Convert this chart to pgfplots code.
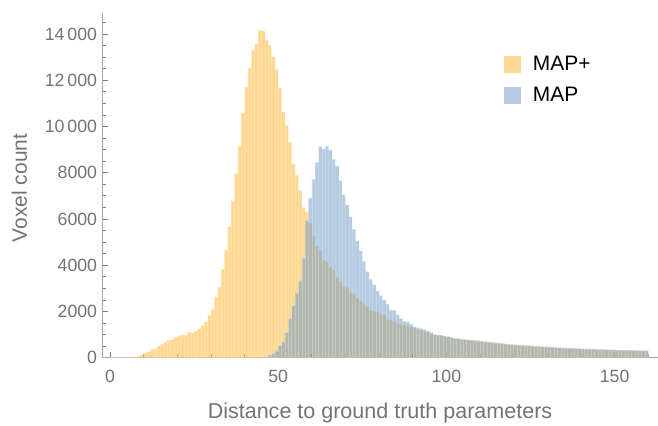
\documentclass[border=0pt]{standalone}
\usepackage{fontspec}
\setmainfont{Liberation Sans}
\usepackage{pgfplots}
\pgfplotsset{compat=1.18}
\usepackage{pgfplotstable}

\definecolor{axisgray}{RGB}{165,165,165}
\definecolor{tickgray}{RGB}{120,120,120}
\definecolor{labelgray}{RGB}{115,115,115}
\definecolor{mapplusbase}{RGB}{255,179,41}
\definecolor{mapbase}{RGB}{105,151,195}
\definecolor{mapplusfill}{RGB}{255,217,148}
\definecolor{mapfill}{RGB}{180,203,225}

% MAP+ histogram (bin left edge, count); last row closes the final interval
\pgfplotstableread{
x y
0 0
1 0
2 5
3 10
4 15
5 20
6 25
7 40
8 70
9 130
10 200
11 260
12 360
13 390
14 505
15 590
16 680
17 765
18 795
19 895
20 940
21 980
22 980
23 1100
24 1070
25 1140
26 1255
27 1400
28 1545
29 1835
30 2090
31 2625
32 3060
33 3840
34 4660
35 5670
36 6780
37 7975
38 9160
39 10580
40 11710
41 12520
42 13310
43 13570
44 14170
45 14130
46 13750
47 13510
48 13020
49 12490
50 11670
51 10630
52 10050
53 9330
54 8380
55 7900
56 7240
57 6500
58 6300
59 5840
60 5265
61 4830
62 4630
63 4225
64 4150
65 3910
66 3795
67 3460
68 3290
69 3070
70 3045
71 2810
72 2755
73 2570
74 2450
75 2340
76 2205
77 2035
78 2005
79 1990
80 1890
81 1847
82 1660
83 1630
84 1557
85 1488
86 1444
87 1414
88 1341
89 1314
90 1270
91 1227
92 1198
93 1168
94 1142
95 1055
96 995
97 950
98 975
99 938
100 908
101 880
102 845
103 835
104 805
105 795
106 785
107 775
108 762
109 745
110 722
111 712
112 700
113 680
114 660
115 645
116 625
117 608
118 590
119 576
120 568
121 560
122 550
123 540
124 530
125 518
126 508
127 498
128 488
129 466
130 455
131 445
132 435
133 426
134 420
135 410
136 402
137 395
138 390
139 382
140 376
141 370
142 364
143 358
144 352
145 346
146 342
147 336
148 332
149 328
150 324
151 320
152 316
153 312
154 308
155 304
156 300
157 298
158 295
159 290
160 290
}\mapplus

% MAP histogram
\pgfplotstableread{
x y
0 0
39 0
40 3
41 5
42 5
43 8
44 10
45 20
46 50
47 110
48 180
49 300
50 520
51 700
52 1100
53 1700
54 2250
55 2800
56 3300
57 4300
58 5925
59 6900
60 7715
61 8450
62 9125
63 9025
64 9155
65 8985
66 8580
67 8290
68 7655
69 7040
70 6600
71 6100
72 5550
73 5050
74 4620
75 4170
76 3720
77 3390
78 3145
79 2885
80 2700
81 2495
82 2320
83 2063
84 2050
85 1847
86 1703
87 1574
88 1544
89 1457
90 1341
91 1300
92 1254
93 1227
94 1155
95 1081
96 1012
97 982
98 970
99 938
100 915
101 875
102 838
103 825
104 795
105 785
106 765
107 755
108 738
109 731
110 702
111 688
112 676
113 656
114 640
115 625
116 605
117 592
118 574
119 564
120 556
121 544
122 530
123 520
124 510
125 502
126 492
127 486
128 476
129 474
130 469
131 459
132 449
133 438
134 430
135 426
136 418
137 409
138 402
139 398
140 392
141 386
142 380
143 374
144 368
145 364
146 358
147 354
148 348
149 344
150 340
151 336
152 332
153 328
154 324
155 320
156 316
157 312
158 309
159 306
160 306
}\map

\begin{document}
\begin{tikzpicture}
\useasboundingbox (0,0) rectangle (658bp,426bp);
\begin{axis}[
  at={(102bp,68.3bp)}, anchor=south west,
  scale only axis, width=556bp, height=345bp,
  xmin=-2.38, xmax=162.9, ymin=0, ymax=14920,
  axis x line=bottom, axis y line=left,
  axis line style={-, draw=axisgray, line width=0.9bp},
  tick align=inside,
  major tick length=6bp, minor tick length=3.5bp,
  tick style={draw=tickgray, line width=0.7bp},
  scaled x ticks=false, scaled y ticks=false,
  xtick={0,50,100,150}, xticklabels={0,50,100,150},
  minor xtick={10,20,30,40,60,70,80,90,110,120,130,140,160},
  ytick={0,2000,4000,6000,8000,10000,12000,14000},
  yticklabels={0,2000,4000,6000,8000,10\,000,12\,000,14\,000},
  minor ytick={500,1000,...,14500},
  tick label style={font=\fontsize{17.8}{20}\selectfont, text=labelgray},
  xticklabel style={anchor=north, inner sep=0pt, yshift=-12.5bp},
  yticklabel style={anchor=east, inner sep=0pt, xshift=-4.7bp},
  xlabel={Distance to ground truth parameters},
  ylabel={Voxel count},
  every axis x label/.style={at={(rel axis cs:0.5,-0.1748)}, anchor=base,
    font=\fontsize{21.6}{24}\selectfont, text=labelgray},
  every axis y label/.style={at={(rel axis cs:-0.1349,0.492)}, anchor=base, rotate=90,
    font=\fontsize{21}{24}\selectfont, text=labelgray},
  legend style={at={(rel axis cs:0.723,0.8745)}, anchor=north west,
    draw=none, fill=none, inner sep=0pt, outer sep=0pt,
    row sep=14bp, column sep=12bp,
    nodes={inner sep=0pt, text=black},
    font=\fontsize{21}{24}\selectfont},
  legend cell align=left,
]
\addplot[ybar interval, fill=mapplusbase, fill opacity=0.5, draw=white, draw opacity=0.2, line width=0.4bp,
  legend image code/.code={\fill[mapplusfill, fill opacity=1, draw=none] (0bp,-8.5bp) rectangle (17bp,8.5bp);}]
  table[x=x,y=y] {\mapplus};
\addlegendentry{MAP+}
\addplot[ybar interval, fill=mapbase, fill opacity=0.5, draw=white, draw opacity=0.2, line width=0.4bp,
  legend image code/.code={\fill[mapfill, fill opacity=1, draw=none] (0bp,-8.5bp) rectangle (17bp,8.5bp);}]
  table[x=x,y=y] {\map};
\addlegendentry{MAP}
\end{axis}
\end{tikzpicture}
\end{document}
